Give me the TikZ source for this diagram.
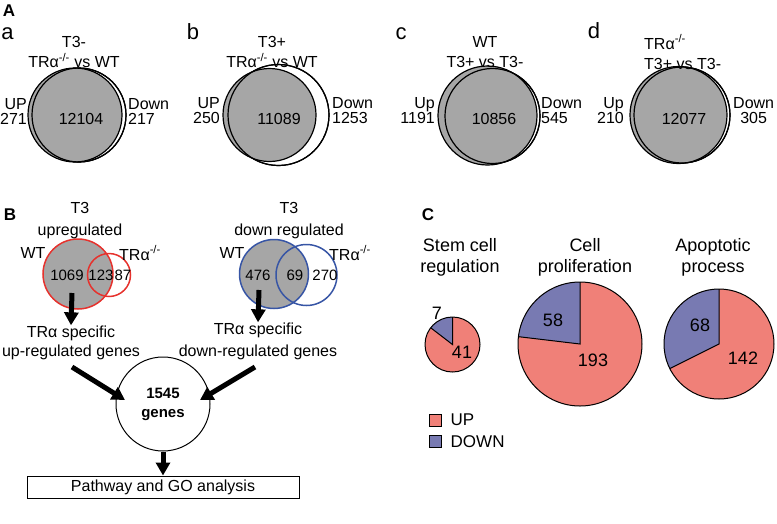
\documentclass[tikz,border=0pt]{standalone}
\usepackage{fontspec}
\setmainfont{Liberation Sans}
\usetikzlibrary{arrows.meta,calc,positioning}
\definecolor{vgray}{RGB}{166,166,166}
\definecolor{vred}{RGB}{230,50,45}
\definecolor{vblue}{RGB}{55,85,165}
\definecolor{pieup}{RGB}{240,128,120}
\definecolor{piedown}{RGB}{120,122,178}

\begin{document}
\begin{tikzpicture}[x=1pt,y=-1pt,
    lbl/.style={inner sep=0,font=\fontsize{16}{15}\selectfont},
    biglbl/.style={inner sep=0,font=\fontsize{18}{15}\selectfont},
    numlbl/.style={inner sep=0,font=\fontsize{15}{15}\selectfont},
    panel/.style={inner sep=0,font=\fontsize{17}{17}\selectfont\bfseries},
    sub/.style={inner sep=0,font=\fontsize{22}{22}\selectfont},
    venn/.style={line width=1.2pt},
    bvenn/.style={line width=1.5pt},
    pieline/.style={line width=1pt},
    bigarrow/.style={line width=5pt,-{Triangle[length=13pt,width=14pt]}}]
  \useasboundingbox (0,0) rectangle (777,523);
  % panel A
  \node[panel] (pA) at (9,11) {A};
  \begin{scope}
    \draw[venn,fill=white] (79,115) circle (47);
    \draw[venn,fill=vgray] (75,115) circle (47);
    \draw[venn] (79,115) circle (47);
    \node[sub] (sa) at (7.5,34) {a};
    \node[lbl,align=center] (ta) at (74,52) {T3-\\[5pt]TRα\textsuperscript{-/-} vs WT};
    \node[lbl,align=right,anchor=east] (upa) at (27,111) {UP\\271};
    \node[lbl,align=left,anchor=west] (dna) at (128,111) {Down\\217};
    \node[lbl] (na) at (81,119) {12104};
  \end{scope}
  \begin{scope}
    \draw[venn,fill=white] (278.5,115) circle (50.5);
    \draw[venn,fill=vgray] (269.5,115) circle (46.5);
    \draw[venn] (278.5,115) circle (50.5);
    \node[sub] (sb) at (193,32) {b};
    \node[lbl,align=center] (tb) at (272,52) {T3+\\[5pt]TRα\textsuperscript{-/-} vs WT};
    \node[lbl,align=right,anchor=east] (upb) at (220,111) {UP\\250};
    \node[lbl,align=left,anchor=west] (dnb) at (332,111) {Down\\1253};
    \node[lbl] (nb) at (279,119) {11089};
  \end{scope}
  \begin{scope}
    \draw[venn,fill=white] (492.5,116) circle (47.5);
    \draw[venn,fill=vgray] (487.5,115.5) circle (49.5);
    \draw[venn] (492.5,116) circle (47.5);
    \node[sub] (sc) at (401,34) {c};
    \node[lbl,align=center] (tc) at (485,52) {WT\\[5pt]T3+ vs T3-};
    \node[lbl,align=right,anchor=east] (upc) at (435,111) {Up\\1191};
    \node[lbl,align=left,anchor=west] (dnc) at (541,111) {Down\\545};
    \node[lbl] (nc) at (494,119) {10856};
  \end{scope}
  \begin{scope}
    \draw[venn,fill=white] (682,115) circle (48);
    \draw[venn,fill=vgray] (678.5,115) circle (48.5);
    \draw[venn] (682,115) circle (48);
    \node[sub] (sd) at (594,31) {d};
    \node[lbl,align=left,anchor=west] (td) at (644,52) {TRα\textsuperscript{-/-}\\[5pt]T3+ vs T3-};
    \node[lbl,align=right,anchor=east] (upd) at (624,111) {Up\\210};
    \node[lbl,align=center,anchor=west] (dnd) at (733,111) {Down\\305};
    \node[lbl] (nd) at (684,119) {12077};
  \end{scope}
  % panel B
  \node[panel] (pB) at (10,215) {B};
  \draw[bvenn,vred,fill=vgray] (78,274) circle (35);
  \draw[bvenn,vred] (109,275) circle (21.5);
  \node[lbl,align=center] (tup) at (80,221) {T3\\[7pt]upregulated};
  \node[lbl] (wtup) at (33,253) {WT};
  \node[lbl] (koup) at (140,253) {TRα\textsuperscript{-/-}};
  \node[numlbl] (n1069) at (67,275) {1069};
  \node[numlbl] (n123) at (101,275) {123};
  \node[numlbl] (n87) at (123,275) {87};
  \draw[bvenn,vblue,fill=vgray] (274,274) circle (34.5);
  \draw[bvenn,vblue] (306.5,275) circle (30.5);
  \node[lbl,align=center] (tdn) at (289,221) {T3\\[7pt]down regulated};
  \node[lbl] (wtdn) at (232,253) {WT};
  \node[lbl] (kodn) at (350,253) {TRα\textsuperscript{-/-}};
  \node[numlbl] (n476) at (258,275) {476};
  \node[numlbl] (n69) at (295,275) {69};
  \node[numlbl] (n270) at (325,275) {270};
  \node[lbl,align=center] (upg) at (71,342.5) {TRα specific\\[4pt]up-regulated genes};
  \node[lbl,align=center] (dng) at (258,341) {TRα specific\\[7pt]down-regulated genes};
  \node[draw,circle,line width=1pt,minimum size=94pt,inner sep=0,align=center,
    font=\fontsize{15}{19}\selectfont\bfseries] (genes) at (163,404) {1545\\genes};
  \node[draw,line width=1pt,minimum width=272pt,minimum height=22pt,inner sep=0,
    font=\fontsize{16}{16}\selectfont] (go) at (163,487) {Pathway and GO analysis};
  \coordinate (upstart) at (72,293);
  \coordinate (dnstart) at (259,290);
  \coordinate (upfrom) at (72,367);
  \coordinate (dnfrom) at (255,367);
  \draw[bigarrow] (upstart) -- (upg.north);
  \draw[bigarrow] (dnstart) -- (dng.north);
  \draw[bigarrow] (upfrom) -- ($(genes)+(-38,-4)$);
  \draw[bigarrow] (dnfrom) -- ($(genes)+(37,-4)$);
  \draw[bigarrow] (genes.south) -- (go.north);
  % panel C
  \node[panel] (pC) at (428,215) {C};
  \node[biglbl,align=center] (tstem) at (460,257.5) {Stem cell\\[6pt]regulation};
  \node[biglbl,align=center] (tprol) at (585,257.5) {Cell\\[6pt]proliferation};
  \node[biglbl,align=center] (tapo) at (713,257.5) {Apoptotic\\[6pt]process};
  \begin{scope}[shift={(452.5,344.5)}]
    \fill[pieup] (0,0) circle (27.5);
    \fill[piedown] (0,0) -- (-90:27.5) arc[start angle=-90,end angle=-142.5,radius=27.5] -- cycle;
    \draw[pieline] (-90:27.5) -- (0,0) -- (-142.5:27.5);
    \draw[pieline] (0,0) circle (27.5);
  \end{scope}
  \begin{scope}[shift={(580,344)}]
    \fill[pieup] (0,0) circle (62);
    \fill[piedown] (0,0) -- (-90:62) arc[start angle=-90,end angle=-173.2,radius=62] -- cycle;
    \draw[pieline] (-90:62) -- (0,0) -- (-173.2:62);
    \draw[pieline] (0,0) circle (62);
  \end{scope}
  \begin{scope}[shift={(719,344)}]
    \fill[pieup] (0,0) circle (55);
    \fill[piedown] (0,0) -- (-90:55) arc[start angle=-90,end angle=-206.6,radius=55] -- cycle;
    \draw[pieline] (-90:55) -- (0,0) -- (-206.6:55);
    \draw[pieline] (0,0) circle (55);
  \end{scope}
  \node[biglbl] (n7) at (437,313) {7};
  \node[biglbl] (n41) at (462,352) {41};
  \node[biglbl] (n58) at (553,320) {58};
  \node[biglbl] (n193) at (593,360) {193};
  \node[biglbl] (n68) at (700,325) {68};
  \node[biglbl] (n142) at (743,358) {142};
  \node[draw,fill=pieup,line width=1pt,minimum size=12pt,inner sep=0] (kup) at (435,420) {};
  \node[draw,fill=piedown,line width=1pt,minimum size=12pt,inner sep=0] (kdn) at (435,441.5) {};
  \node[lbl,font=\fontsize{17}{15}\selectfont,right=9pt of kup] (lup) {UP};
  \node[lbl,font=\fontsize{17}{15}\selectfont,right=9pt of kdn] (ldn) {DOWN};
\end{tikzpicture}
\end{document}
